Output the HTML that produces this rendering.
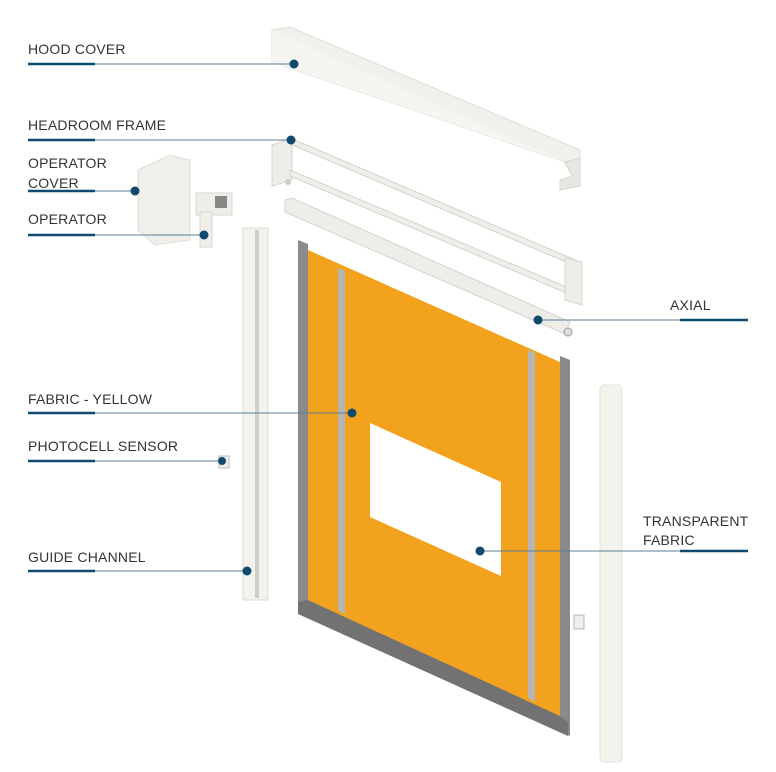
<!DOCTYPE html>
<html><head><style>
html,body{margin:0;padding:0;background:#fff;}
body{width:776px;height:772px;position:relative;overflow:hidden;font-family:"Liberation Sans",sans-serif;}
.l{position:absolute;font-size:14px;color:#333;letter-spacing:0.2px;}
</style></head><body>
<svg width="776" height="772" style="position:absolute;left:0;top:0">
<polygon points="272,30 290,27 580,150 580,158 565,162 272,62" fill="#f1f0eb" stroke="#e0ded8"/>
<polygon points="565,162 580,158 580,186 560,190 560,180 572,176" fill="#e8e6e0" stroke="#d8d6d0"/>
<polygon points="272,30 272,62 565,162" fill="#f6f5f1"/>
<polygon points="272,145 292,138 292,180 272,186" fill="#eeede8" stroke="#d6d4ce"/>
<polygon points="290,138 580,262 580,268 290,144" fill="#efeee9" stroke="#d5d3cd"/>
<polygon points="290,170 578,292 578,298 290,176" fill="#efeee9" stroke="#d5d3cd"/>
<polygon points="565,258 582,262 582,305 565,300" fill="#eeede8" stroke="#d6d4ce"/>
<circle cx="288" cy="182" r="3" fill="#ccc"/>
<polygon points="285,200 292,198 570,322 565,334 285,212" fill="#eeede8" stroke="#d6d4ce"/>
<circle cx="568" cy="332" r="4" fill="#ddd" stroke="#999"/>
<polygon points="138,170 170,155 190,160 190,240 155,245 138,230" fill="#f0efea" stroke="#e0ded8"/>
<rect x="196" y="193" width="36" height="22" fill="#eeede8" stroke="#d8d6d0"/>
<rect x="215" y="196" width="12" height="12" fill="#888"/>
<rect x="200" y="212" width="12" height="35" fill="#efeee9" stroke="#d8d6d0"/>
<rect x="243" y="228" width="25" height="372" fill="#f3f2ec" stroke="#dcdad3"/>
<rect x="255" y="230" width="4" height="368" fill="#d0cec8"/>
<rect x="219" y="456" width="10" height="12" fill="#eee" stroke="#bbb"/>
<rect x="574" y="615" width="10" height="14" fill="#eee" stroke="#bbb"/>
<rect x="600" y="385" width="22" height="377" rx="4" fill="#f3f2ec" stroke="#e2e0da"/>
<polygon points="298,240 308,244 308,608 298,614" fill="#8a8a8a"/>
<polygon points="560,356 570,360 570,736 560,732" fill="#8a8a8a"/>
<polygon points="308,250 560,362 560,718 308,600" fill="#f3a21e"/>
<polygon points="298,602 308,600 560,716 568,722 568,736 298,614" fill="#727272"/>
<polygon points="338,268 345,271 345,614 338,610" fill="#b5b5b5"/>
<polygon points="528,350 535,353 535,702 528,698" fill="#b5b5b5"/>
<polygon points="370,423 501,482 501,576 370,517" fill="#fff"/>
<g stroke="#0d4a6e" fill="none">
<line x1="28" y1="64" x2="294" y2="64" stroke-width="1" stroke="#5d7e95"/>
<line x1="28" y1="64" x2="95" y2="64" stroke-width="2.5"/>
<line x1="28" y1="140" x2="291" y2="140" stroke-width="1" stroke="#5d7e95"/>
<line x1="28" y1="140" x2="95" y2="140" stroke-width="2.5"/>
<line x1="28" y1="191" x2="135" y2="191" stroke-width="1" stroke="#5d7e95"/>
<line x1="28" y1="191" x2="95" y2="191" stroke-width="2.5"/>
<line x1="28" y1="235" x2="204" y2="235" stroke-width="1" stroke="#5d7e95"/>
<line x1="28" y1="235" x2="95" y2="235" stroke-width="2.5"/>
<line x1="28" y1="413" x2="352" y2="413" stroke-width="1" stroke="#5d7e95"/>
<line x1="28" y1="413" x2="95" y2="413" stroke-width="2.5"/>
<line x1="28" y1="461" x2="222" y2="461" stroke-width="1" stroke="#5d7e95"/>
<line x1="28" y1="461" x2="95" y2="461" stroke-width="2.5"/>
<line x1="28" y1="571" x2="247" y2="571" stroke-width="1" stroke="#5d7e95"/>
<line x1="28" y1="571" x2="95" y2="571" stroke-width="2.5"/>
<line x1="538" y1="320" x2="748" y2="320" stroke-width="1" stroke="#5d7e95"/>
<line x1="680" y1="320" x2="748" y2="320" stroke-width="2.5"/>
<line x1="480" y1="551" x2="748" y2="551" stroke-width="1" stroke="#5d7e95"/>
<line x1="680" y1="551" x2="748" y2="551" stroke-width="2.5"/>
</g>
<g fill="#0d4a6e">
<circle cx="294" cy="64" r="4.5"/><circle cx="291" cy="140" r="4.5"/>
<circle cx="135" cy="191" r="4.5"/><circle cx="204" cy="235" r="4.5"/>
<circle cx="352" cy="413" r="4.5"/><circle cx="222" cy="461" r="4"/>
<circle cx="247" cy="571" r="4.5"/><circle cx="538" cy="320" r="4.5"/>
<circle cx="480" cy="551" r="4.5"/>
</g>
</svg>
<div class="l" style="left:28px;top:41px">HOOD COVER</div>
<div class="l" style="left:28px;top:117px">HEADROOM FRAME</div>
<div class="l" style="left:28px;top:153px;line-height:20px">OPERATOR<br>COVER</div>
<div class="l" style="left:28px;top:211px">OPERATOR</div>
<div class="l" style="left:28px;top:391px">FABRIC - YELLOW</div>
<div class="l" style="left:28px;top:438px">PHOTOCELL SENSOR</div>
<div class="l" style="left:28px;top:549px">GUIDE CHANNEL</div>
<div class="l" style="left:670px;top:297px">AXIAL</div>
<div class="l" style="left:643px;top:512px;line-height:19px">TRANSPARENT<br>FABRIC</div>
</body></html>
